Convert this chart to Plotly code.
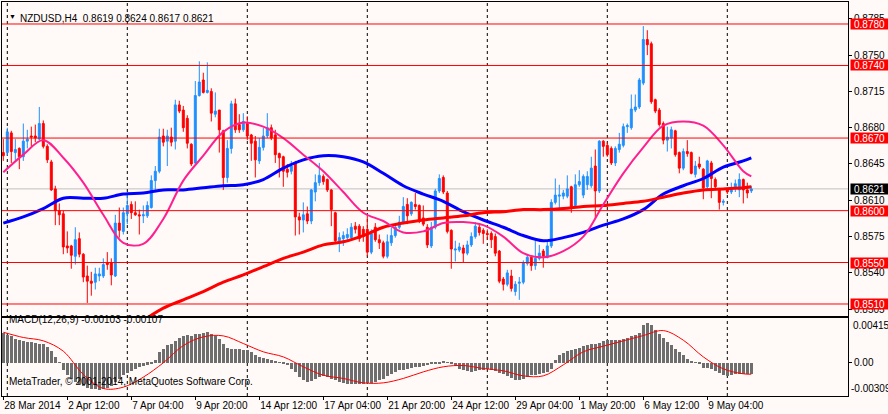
import plotly.graph_objects as go
from plotly.subplots import make_subplots

# NZDUSD H4 candles (bar 0 = 28 Mar 2014 20:00)
open_ = [
    .8656, .8656, .8675, .8656, .8660, .8652, .8667, .8672, .8672, .8669,
    .8684, .8662, .8647, .8621, .8600, .8597, .8566, .8566, .8556, .8573,
    .8558, .8537, .8532, .8531, .8537, .8537, .8550, .8550, .8537, .8588,
    .8580, .8597, .8606, .8598, .8596, .8595, .8595, .8603, .8629, .8638,
    .8672, .8667, .8671, .8667, .8702, .8697, .8689, .8664, .8646, .8711,
    .8726, .8714, .8715, .8693, .8697, .8677, .8632, .8660, .8703, .8683,
    .8678, .8684, .8673, .8667, .8648, .8661, .8672, .8680, .8673, .8655,
    .8652, .8640, .8638, .8646, .8594, .8591, .8597, .8590, .8618, .8627,
    .8633, .8630, .8620, .8598, .8571, .8573, .8574, .8574, .8585, .8585,
    .8582, .8582, .8560, .8584, .8572, .8569, .8556, .8569, .8576, .8584,
    .8589, .8606, .8597, .8606, .8605, .8593, .8584, .8566, .8584, .8619,
    .8632, .8617, .8581, .8562, .8562, .8564, .8559, .8567, .8575, .8584,
    .8581, .8578, .8578, .8575, .8561, .8534, .8529, .8537, .8522, .8530,
    .8531, .8549, .8555, .8547, .8554, .8561, .8555, .8566, .8608, .8614,
    .8614, .8614, .8623, .8605, .8625, .8615, .8625, .8624, .8643, .8619,
    .8667, .8663, .8660, .8646, .8659, .8663, .8681, .8680, .8697, .8700,
    .8723, .8765, .8761, .8707, .8697, .8684, .8668, .8670, .8677, .8656,
    .8641, .8657, .8656, .8635, .8645, .8640, .8623, .8646, .8630, .8621,
    .8608, .8620, .8618, .8622, .8620, .8630, .8620, .8619,
]
high = [
    .8669, .8680, .8677, .8669, .8661, .8684, .8678, .8681, .8683, .8700,
    .8687, .8664, .8649, .8624, .8607, .8600, .8580, .8567, .8584, .8579,
    .8559, .8547, .8541, .8545, .8545, .8554, .8560, .8554, .8596, .8603,
    .8603, .8616, .8609, .8609, .8601, .8605, .8609, .8634, .8643, .8679,
    .8679, .8678, .8680, .8707, .8706, .8701, .8692, .8665, .8725, .8744,
    .8733, .8743, .8718, .8714, .8697, .8678, .8668, .8706, .8708, .8693,
    .8694, .8691, .8674, .8672, .8670, .8680, .8694, .8683, .8678, .8656,
    .8653, .8645, .8648, .8648, .8598, .8608, .8604, .8621, .8635, .8646,
    .8635, .8631, .8621, .8599, .8579, .8580, .8583, .8588, .8589, .8587,
    .8585, .8595, .8582, .8588, .8577, .8571, .8577, .8584, .8587, .8595,
    .8613, .8612, .8609, .8617, .8606, .8605, .8587, .8589, .8621, .8635,
    .8634, .8619, .8582, .8571, .8569, .8567, .8571, .8579, .8589, .8587,
    .8583, .8582, .8580, .8578, .8562, .8536, .8543, .8543, .8532, .8536,
    .8552, .8558, .8555, .8571, .8567, .8563, .8571, .8611, .8631, .8625,
    .8620, .8634, .8624, .8635, .8639, .8635, .8638, .8652, .8659, .8668,
    .8668, .8666, .8662, .8662, .8675, .8684, .8684, .8712, .8712, .8728,
    .8778, .8774, .8763, .8708, .8699, .8686, .8681, .8681, .8678, .8657,
    .8660, .8668, .8657, .8648, .8652, .8641, .8649, .8648, .8632, .8622,
    .8611, .8621, .8627, .8630, .8636, .8631, .8627, .8624,
]
low = [
    .8648, .8653, .8646, .8648, .8640, .8648, .8660, .8662, .8666, .8668,
    .8660, .8646, .8619, .8586, .8586, .8558, .8559, .8544, .8548, .8555,
    .8531, .8511, .8518, .8524, .8532, .8535, .8543, .8528, .8536, .8574,
    .8577, .8587, .8592, .8595, .8577, .8588, .8593, .8602, .8620, .8636,
    .8662, .8643, .8662, .8659, .8694, .8676, .8660, .8643, .8645, .8710,
    .8713, .8713, .8686, .8690, .8656, .8620, .8627, .8655, .8675, .8675,
    .8676, .8668, .8648, .8632, .8645, .8658, .8670, .8668, .8646, .8632,
    .8623, .8632, .8635, .8576, .8577, .8579, .8587, .8587, .8609, .8624,
    .8625, .8618, .8585, .8569, .8560, .8566, .8570, .8571, .8578, .8570,
    .8570, .8556, .8558, .8570, .8563, .8554, .8554, .8566, .8574, .8582,
    .8587, .8587, .8595, .8601, .8588, .8585, .8564, .8564, .8582, .8617,
    .8616, .8578, .8544, .8551, .8560, .8550, .8557, .8565, .8573, .8576,
    .8568, .8572, .8564, .8556, .8530, .8523, .8527, .8522, .8518, .8514,
    .8529, .8547, .8542, .8543, .8552, .8545, .8554, .8564, .8606, .8601,
    .8611, .8612, .8598, .8603, .8623, .8612, .8620, .8622, .8593, .8617,
    .8652, .8652, .8644, .8643, .8656, .8661, .8675, .8678, .8695, .8698,
    .8721, .8750, .8703, .8694, .8681, .8664, .8657, .8660, .8652, .8636,
    .8639, .8652, .8635, .8632, .8640, .8611, .8620, .8612, .8620, .8601,
    .8605, .8616, .8616, .8618, .8613, .8607, .8612, .8617,
]
close = [
    .8653, .8676, .8657, .8659, .8652, .8667, .8669, .8671, .8670, .8684,
    .8662, .8649, .8620, .8600, .8596, .8565, .8564, .8557, .8572, .8558,
    .8536, .8532, .8530, .8539, .8539, .8548, .8548, .8538, .8588, .8581,
    .8598, .8605, .8598, .8596, .8595, .8596, .8605, .8629, .8638, .8671,
    .8666, .8672, .8666, .8702, .8696, .8680, .8665, .8645, .8711, .8724,
    .8714, .8716, .8694, .8696, .8678, .8632, .8660, .8703, .8678, .8678,
    .8686, .8672, .8665, .8649, .8661, .8672, .8680, .8670, .8654, .8651,
    .8638, .8637, .8643, .8594, .8591, .8596, .8590, .8620, .8627, .8634,
    .8628, .8620, .8601, .8571, .8574, .8576, .8577, .8584, .8582, .8573,
    .8575, .8560, .8578, .8572, .8569, .8556, .8570, .8576, .8584, .8589,
    .8604, .8595, .8608, .8604, .8591, .8587, .8567, .8584, .8619, .8631,
    .8618, .8580, .8563, .8563, .8565, .8559, .8567, .8575, .8585, .8579,
    .8578, .8577, .8572, .8559, .8532, .8529, .8540, .8525, .8529, .8531,
    .8550, .8555, .8547, .8554, .8559, .8556, .8566, .8608, .8615, .8615,
    .8617, .8621, .8604, .8625, .8628, .8633, .8633, .8641, .8619, .8667,
    .8662, .8654, .8646, .8660, .8664, .8681, .8682, .8698, .8700, .8726,
    .8765, .8760, .8705, .8696, .8683, .8668, .8671, .8678, .8654, .8641,
    .8657, .8655, .8636, .8643, .8642, .8622, .8648, .8631, .8623, .8608,
    .8609, .8618, .8622, .8626, .8630, .8620, .8617, .8621,
]
bars = list(range(len(close)))

# moving averages, sampled every 5 bars
ma_idx = list(range(0, 186, 5)) + [187]
ma_blue = [
    .8588, .8594, .8602, .8612, .8612, .8612, .8616, .8617, .8620, .8620,
    .8622, .8624, .8625, .8630, .8641, .8649, .8653, .8652, .8647, .8636,
    .8624, .8616, .8609, .8599, .8591, .8584, .8576, .8571, .8574, .8579,
    .8586, .8592, .8601, .8616, .8624, .8631, .8642, .8648, .8651,
]
ma_pink = [
    .8637, .8654, .8668, .8651, .8627, .8596, .8569, .8568, .8592, .8629,
    .8653, .8676, .8685, .8681, .8670, .8654, .8638, .8618, .8598, .8590,
    .8579, .8580, .8588, .8589, .8586, .8575, .8559, .8555, .8561, .8575,
    .8606, .8636, .8661, .8682, .8686, .8682, .8663, .8638, .8633,
]
ma_red_idx = list(range(35, 186, 5)) + [187]
ma_red = [
    .8494, .8506, .8514, .8522, .8531, .8538, .8546, .8554, .8560, .8567,
    .8570, .8576, .8584, .8588, .8591, .8593, .8595, .8598, .8599, .8601,
    .8601, .8602, .8604, .8605, .8607, .8609, .8613, .8617, .8620, .8621,
    .8622, .8623,
]

# MACD(12,26,9)
macd_hist = [
    .00275, .00254, .00244, .00222, .00208, .00201, .00192, .00192, .00183, .00176,
    .00170, .00146, .00108, .00053, .00006, -.00065, -.00117, -.00149, -.00179, -.00201,
    -.00220, -.00232, -.00241, -.00247, -.00251, -.00244, -.00235, -.00220, -.00179, -.00149,
    -.00117, -.00096, -.00078, -.00059, -.00041, -.00028, -.00018, -.00003, .00022, .00099,
    .00130, .00160, .00176, .00201, .00232, .00247, .00254, .00244, .00263, .00269,
    .00275, .00281, .00263, .00244, .00222, .00176, .00139, .00130, .00130, .00130,
    .00121, .00114, .00099, .00068, .00053, .00046, .00037, .00028, .00016, .00006,
    -.00009, -.00025, -.00055, -.00087, -.00133, -.00164, -.00179, -.00170, -.00149, -.00133,
    -.00127, -.00133, -.00149, -.00164, -.00179, -.00189, -.00201, -.00201, -.00201, -.00195,
    -.00195, -.00189, -.00189, -.00179, -.00164, -.00149, -.00127, -.00108, -.00087, -.00071,
    -.00065, -.00055, -.00046, -.00041, -.00041, -.00034, -.00025, -.00016, -.00009, -.00003,
    .00018, .00006, -.00016, -.00034, -.00055, -.00071, -.00080, -.00087, -.00078, -.00071,
    -.00065, -.00059, -.00065, -.00078, -.00096, -.00108, -.00127, -.00139, -.00158, -.00164,
    -.00149, -.00133, -.00117, -.00117, -.00108, -.00096, -.00087, -.00055, .00022, .00068,
    .00089, .00108, .00114, .00130, .00139, .00151, .00160, .00176, .00170, .00183,
    .00201, .00213, .00208, .00213, .00213, .00222, .00232, .00244, .00254, .00275,
    .00347, .00368, .00347, .00300, .00269, .00232, .00192, .00160, .00130, .00099,
    .00068, .00037, .00016, .00006, -.00016, -.00046, -.00046, -.00055, -.00078, -.00096,
    -.00117, -.00127, -.00117, -.00108, -.00102, -.00108, -.00108, -.00103,
]
macd_signal = [
    .00283, .00234, .00203, .00107, -.00109, -.00239, -.00227, -.00134, -.00001, .00159,
    .00240, .00249, .00178, .00101, .00054, -.00038, -.00116, -.00146, -.00187, -.00187,
    -.00146, -.00085, -.00038, -.00026, -.00054, -.00075, -.00122, -.00122, -.00020, .00101,
    .00153, .00203, .00252, .00298, .00209, .00054, -.00057, -.00103, -.00107,
]

levels = [0.8780, 0.8740, 0.8670, 0.8600, 0.8550, 0.8510]
last_price = 0.8621
price_ticks = [0.8505, 0.8540, 0.8575, 0.8610, 0.8645, 0.8680, 0.8715, 0.8750, 0.8785]
time_pos = [0, 16, 32, 48, 64, 80, 96, 112, 128, 144, 160, 176]
time_labels = [
    "28 Mar 2014", "2 Apr 12:00", "7 Apr 04:00", "9 Apr 20:00", "14 Apr 12:00",
    "17 Apr 04:00", "21 Apr 20:00", "24 Apr 12:00", "29 Apr 04:00", "1 May 20:00",
    "6 May 12:00", "9 May 04:00",
]
week_starts = [1, 31, 61, 91, 121, 151, 181]

FONT = "Tahoma, Liberation Sans, Arial, sans-serif"
BG = "#fffaf8"

fig = make_subplots(rows=2, cols=1, shared_xaxes=True)

fig.add_trace(go.Candlestick(
    x=bars, open=open_, high=high, low=low, close=close,
    increasing=dict(line=dict(color="#1e90ff", width=1), fillcolor="#1e90ff"),
    decreasing=dict(line=dict(color="#ff0000", width=1), fillcolor="#ff0000"),
    whiskerwidth=0, showlegend=False, hoverinfo="skip",
), row=1, col=1)

fig.add_trace(go.Scatter(x=ma_idx, y=ma_blue, mode="lines",
                         line=dict(color="#0000ff", width=3, shape="spline"),
                         showlegend=False, hoverinfo="skip"), row=1, col=1)
fig.add_trace(go.Scatter(x=ma_red_idx, y=ma_red, mode="lines",
                         line=dict(color="#ff0000", width=3, shape="spline"),
                         showlegend=False, hoverinfo="skip"), row=1, col=1)
fig.add_trace(go.Scatter(x=ma_idx, y=ma_pink, mode="lines",
                         line=dict(color="#ff2090", width=2, shape="spline"),
                         showlegend=False, hoverinfo="skip"), row=1, col=1)

fig.add_trace(go.Bar(x=bars, y=macd_hist, width=0.75,
                     marker=dict(color="#6e6e6e", line=dict(width=0)),
                     showlegend=False, hoverinfo="skip"), row=2, col=1)
fig.add_trace(go.Scatter(x=ma_idx, y=macd_signal, mode="lines",
                         line=dict(color="#ff0000", width=1, shape="spline"),
                         showlegend=False, hoverinfo="skip"), row=2, col=1)

# horizontal levels + current price line
for lvl in levels:
    fig.add_hline(y=lvl, line_color="#ff0000", line_width=1, row=1, col=1)
fig.add_hline(y=last_price, line_color="#c0c0c0", line_width=1, layer="below", row=1, col=1)

# weekly dashed separators
for ws in week_starts:
    fig.add_shape(type="line", x0=ws, x1=ws, xref="x", y0=0, y1=1, yref="paper",
                  line=dict(color="black", width=1, dash="3px,3px"), layer="below")

# price level boxes on the scale
for lvl in levels:
    fig.add_annotation(x=1, xref="paper", y=lvl, yref="y", xanchor="left", xshift=2,
                       text=f"{lvl:.4f}", showarrow=False, bgcolor="#ff0000",
                       font=dict(family=FONT, size=10, color="white"),
                       width=37, height=10, borderpad=0)
fig.add_annotation(x=1, xref="paper", y=last_price, yref="y", xanchor="left", xshift=2,
                   text=f"{last_price:.4f}", showarrow=False, bgcolor="#000000",
                   font=dict(family=FONT, size=10, color="white"),
                   width=37, height=10, borderpad=0)

# MACD scale extremes
fig.add_annotation(x=1, xref="paper", y=0.00415, yref="y2", xanchor="left", yanchor="top",
                   xshift=3, text="0.00415", showarrow=False,
                   font=dict(family=FONT, size=10, color="black"))
fig.add_annotation(x=1, xref="paper", y=-0.00309, yref="y2", xanchor="left", yanchor="bottom",
                   xshift=1, text="-0.00309", showarrow=False,
                   font=dict(family=FONT, size=10, color="black"))

# header texts
fig.add_annotation(x=0.006, xref="paper", y=0.978, yref="paper", xanchor="left",
                   text="▼", showarrow=False, font=dict(family=FONT, size=7, color="black"))
fig.add_annotation(x=0.019, xref="paper", y=0.978, yref="paper", xanchor="left",
                   text="NZDUSD,H4\u00a0\u00a00.8619 0.8624 0.8617 0.8621", showarrow=False,
                   font=dict(family=FONT, size=10, color="black"))
fig.add_annotation(x=0.006, xref="paper", y=0.175, yref="paper", xanchor="left",
                   text="MACD(12,26,9) -0.00103 -0.00107", showarrow=False,
                   font=dict(family=FONT, size=10, color="black"))
fig.add_annotation(x=0.006, xref="paper", y=0.018, yref="paper", xanchor="left",
                   text="MetaTrader, © 2001-2014, MetaQuotes Software Corp.", showarrow=False,
                   font=dict(family=FONT, size=10, color="black"))

axis_line = dict(showline=True, linecolor="black", linewidth=1, mirror=True,
                 showgrid=False, zeroline=False, automargin=False)

fig.update_xaxes(range=[-0.325, 211.175], rangeslider_visible=False, **axis_line)
fig.update_xaxes(showticklabels=False, ticks="", row=1, col=1)
fig.update_xaxes(tickmode="array", tickvals=time_pos, ticktext=time_labels,
                 ticks="outside", ticklen=3, tickcolor="black", tickangle=0,
                 ticklabelposition="outside right",
                 tickfont=dict(family=FONT, size=10, color="black"), row=2, col=1)

fig.update_yaxes(side="right", range=[0.84984, 0.88012], domain=[0.203, 1.0],
                 tickmode="array", tickvals=price_ticks, tickformat=".4f",
                 ticks="outside", ticklen=3, tickcolor="black",
                 tickfont=dict(family=FONT, size=10, color="black"),
                 row=1, col=1, **axis_line)
fig.update_yaxes(side="right", range=[-0.00309, 0.00415], domain=[0.0, 0.198],
                 tickmode="array", tickvals=[0], ticktext=["0.00"],
                 ticks="outside", ticklen=3, tickcolor="black",
                 tickfont=dict(family=FONT, size=10, color="black"),
                 row=2, col=1, **axis_line)

fig.update_layout(
    width=888, height=414,
    margin=dict(l=2, r=40, t=2, b=18),
    paper_bgcolor=BG, plot_bgcolor=BG,
    showlegend=False, bargap=0,
    font=dict(family=FONT, size=10, color="black"),
)

# the page body keeps the browser's default 8px margin otherwise
fig.write_html("out.html", config={"displayModeBar": False},
               post_script="document.body.style.margin='0';")
